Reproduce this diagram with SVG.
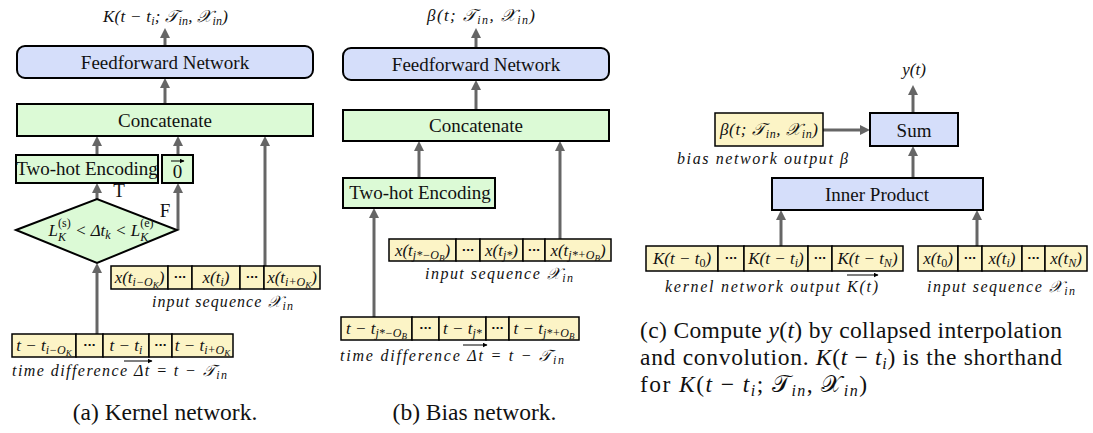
<svg xmlns="http://www.w3.org/2000/svg" width="1093" height="433" viewBox="0 0 1093 433">
<defs>
<marker id="ah" viewBox="0 0 10 10" refX="3" refY="5" markerWidth="10" markerHeight="11" markerUnits="userSpaceOnUse" orient="auto">
<path d="M0,0 L10,5 L0,10 z" fill="#666"/>
</marker>
<marker id="sa" viewBox="0 0 10 10" refX="9" refY="5" markerWidth="5" markerHeight="5" markerUnits="userSpaceOnUse" orient="auto">
<path d="M0,0 L10,5 L0,10 z" fill="#000"/>
</marker>
<style>
.blue{fill:#d5defa;stroke:#000;stroke-width:2}
.green{fill:#dcfad6;stroke:#000;stroke-width:2}
.yel{fill:#fcf4c6;stroke:#000;stroke-width:1.5}
.lbl{font-family:"Liberation Serif","DejaVu Serif",serif;font-size:19px;text-anchor:middle;fill:#111}
.m{font-family:"Liberation Serif","DejaVu Serif",serif;font-style:italic;font-size:17px;text-anchor:middle;fill:#111}
.it{font-family:"Liberation Serif","DejaVu Serif",serif;font-style:italic;font-size:16px;fill:#111}
.dots{font-family:"DejaVu Sans",sans-serif;font-weight:bold;font-size:11px;text-anchor:middle;fill:#111}
.cap{font-family:"Liberation Serif","DejaVu Serif",serif;font-size:23.5px;fill:#111}
.conn line{stroke:#666;stroke-width:3;marker-end:url(#ah)}
.acc{stroke:#000;stroke-width:1;marker-end:url(#sa)}
.s{font-size:12px}
.ss{font-size:9px}
</style>
</defs>

<g id="connectors" class="conn">
<line x1="165" y1="46" x2="165" y2="35"/>
<line x1="165" y1="104" x2="165" y2="85"/>
<line x1="97" y1="155" x2="97" y2="143"/>
<line x1="178" y1="155" x2="178" y2="143"/>
<line x1="265" y1="266" x2="265" y2="143"/>
<line x1="97" y1="199" x2="97" y2="190"/>
<line x1="178" y1="230" x2="178" y2="190"/>
<line x1="97" y1="334" x2="97" y2="270"/>
<line x1="476" y1="48" x2="476" y2="35"/>
<line x1="476" y1="110" x2="476" y2="87"/>
<line x1="419" y1="178" x2="419" y2="148"/>
<line x1="560" y1="239" x2="560" y2="148"/>
<line x1="374" y1="317" x2="374" y2="215"/>
<line x1="913" y1="113" x2="913" y2="92"/>
<line x1="823" y1="130" x2="863" y2="130"/>
<line x1="913" y1="178" x2="913" y2="153"/>
<line x1="781" y1="246" x2="781" y2="217"/>
<line x1="977" y1="246" x2="977" y2="217"/>
</g>

<!-- Panel (a) -->
<g id="a-output">
<text class="m" x="165.5" y="22" textLength="125" lengthAdjust="spacing">K(t − t<tspan class="s" dy="3">i</tspan><tspan dy="-3">; 𝒯</tspan><tspan class="s" dy="3">in</tspan><tspan dy="-3">, 𝒳</tspan><tspan class="s" dy="3">in</tspan><tspan dy="-3">)</tspan></text>
</g>
<g id="a-ffn">
<rect class="blue" x="17" y="46" width="296" height="32" rx="8"/>
<text class="lbl" x="165" y="69">Feedforward Network</text>
</g>
<g id="a-concat">
<rect class="green" x="17" y="104" width="296" height="32"/>
<text class="lbl" x="165" y="127">Concatenate</text>
</g>
<g id="a-twohot">
<rect class="green" x="16" y="155" width="142" height="28"/>
<text class="lbl" x="87" y="175" font-size="16">Two-hot Encoding</text>
</g>
<g id="a-zero">
<rect class="green" x="162" y="155" width="31" height="28"/>
<text class="lbl" x="177.5" y="178" font-size="17">0</text>
<line class="acc" x1="171" y1="161" x2="184" y2="161"/>
</g>
<g id="a-cond">
<polygon class="green" points="16,230 97,199 177,230 97,263"/>
<text class="m" x="101" y="236" font-size="18">L<tspan class="s" dy="5">K</tspan><tspan class="s" dx="-8" dy="-14" font-style="normal">(s)</tspan><tspan dy="9"> &lt; Δt</tspan><tspan class="s" dy="3">k</tspan><tspan dy="-3"> &lt; L</tspan><tspan class="s" dy="5">K</tspan><tspan class="s" dx="-8" dy="-14" font-style="normal">(e)</tspan></text>
<text class="lbl" x="119" y="197" font-size="17">T</text>
<text class="lbl" x="165" y="217" font-size="17">F</text>
</g>
<g id="a-input">
<rect class="yel" x="111" y="266" width="57" height="23"/>
<rect class="yel" x="168" y="266" width="24" height="23"/>
<rect class="yel" x="192" y="266" width="48" height="23"/>
<rect class="yel" x="240" y="266" width="24" height="23"/>
<rect class="yel" x="264" y="266" width="56" height="23"/>
<text class="m" x="139.5" y="283">x(t<tspan class="s" dy="3">i−O</tspan><tspan class="ss" dy="2">K</tspan><tspan dy="-5">)</tspan></text>
<text class="dots" x="180" y="281">···</text>
<text class="m" x="216" y="283">x(t<tspan class="s" dy="3">i</tspan><tspan dy="-3">)</tspan></text>
<text class="dots" x="252" y="281">···</text>
<text class="m" x="292" y="283">x(t<tspan class="s" dy="3">i+O</tspan><tspan class="ss" dy="2">K</tspan><tspan dy="-5">)</tspan></text>
<text class="it" x="152" y="307" textLength="141" lengthAdjust="spacing">input sequence 𝒳<tspan class="s" dy="3">in</tspan></text>
</g>
<g id="a-time">
<rect class="yel" x="12" y="334" width="64" height="23"/>
<rect class="yel" x="76" y="334" width="27" height="23"/>
<rect class="yel" x="103" y="334" width="46" height="23"/>
<rect class="yel" x="149" y="334" width="23" height="23"/>
<rect class="yel" x="172" y="334" width="61" height="23"/>
<text class="m" x="44" y="351">t − t<tspan class="s" dy="3">i−O</tspan><tspan class="ss" dy="2">K</tspan></text>
<text class="dots" x="89.5" y="349">···</text>
<text class="m" x="126" y="351">t − t<tspan class="s" dy="3">i</tspan></text>
<text class="dots" x="160.5" y="349">···</text>
<text class="m" x="202.5" y="351">t − t<tspan class="s" dy="3">i+O</tspan><tspan class="ss" dy="2">K</tspan></text>
<text class="it" x="12" y="376" textLength="215" lengthAdjust="spacing">time difference Δt = t − 𝒯<tspan class="s" dy="3">in</tspan></text>
<line class="acc" x1="124" y1="361" x2="152" y2="361"/>
</g>
<text class="cap" x="165" y="420" text-anchor="middle">(a) Kernel network.</text>

<!-- Panel (b) -->
<g id="b-output">
<text class="m" x="481" y="21" textLength="108" lengthAdjust="spacing">β(t; 𝒯<tspan class="s" dy="3">in</tspan><tspan dy="-3">, 𝒳</tspan><tspan class="s" dy="3">in</tspan><tspan dy="-3">)</tspan></text>
</g>
<g id="b-ffn">
<rect class="blue" x="343" y="48" width="266" height="32" rx="8"/>
<text class="lbl" x="476" y="71">Feedforward Network</text>
</g>
<g id="b-concat">
<rect class="green" x="343" y="110" width="266" height="31"/>
<text class="lbl" x="476" y="132">Concatenate</text>
</g>
<g id="b-twohot">
<rect class="green" x="343" y="178" width="152" height="30"/>
<text class="lbl" x="420" y="199" font-size="17">Two-hot Encoding</text>
</g>
<g id="b-input">
<rect class="yel" x="389" y="239" width="67" height="22"/>
<rect class="yel" x="456" y="239" width="24" height="22"/>
<rect class="yel" x="480" y="239" width="43" height="22"/>
<rect class="yel" x="523" y="239" width="22" height="22"/>
<rect class="yel" x="545" y="239" width="66" height="22"/>
<text class="m" x="422.5" y="256">x(t<tspan class="s" dy="3">j*−O</tspan><tspan class="ss" dy="2">B</tspan><tspan dy="-5">)</tspan></text>
<text class="dots" x="468" y="254">···</text>
<text class="m" x="501.5" y="256">x(t<tspan class="s" dy="3">j*</tspan><tspan dy="-3">)</tspan></text>
<text class="dots" x="534" y="254">···</text>
<text class="m" x="578" y="256">x(t<tspan class="s" dy="3">j*+O</tspan><tspan class="ss" dy="2">B</tspan><tspan dy="-5">)</tspan></text>
<text class="it" x="425" y="279" textLength="148" lengthAdjust="spacing">input sequence 𝒳<tspan class="s" dy="3">in</tspan></text>
</g>
<g id="b-time">
<rect class="yel" x="341" y="317" width="71" height="23"/>
<rect class="yel" x="412" y="317" width="27" height="23"/>
<rect class="yel" x="439" y="317" width="47" height="23"/>
<rect class="yel" x="486" y="317" width="23" height="23"/>
<rect class="yel" x="509" y="317" width="70" height="23"/>
<text class="m" x="376.5" y="334">t − t<tspan class="s" dy="3">j*−O</tspan><tspan class="ss" dy="2">B</tspan></text>
<text class="dots" x="425.5" y="332">···</text>
<text class="m" x="462.5" y="334">t − t<tspan class="s" dy="3">j*</tspan></text>
<text class="dots" x="497.5" y="332">···</text>
<text class="m" x="544" y="334">t − t<tspan class="s" dy="3">j*+O</tspan><tspan class="ss" dy="2">B</tspan></text>
<text class="it" x="340" y="361" textLength="224" lengthAdjust="spacing">time difference Δt = t − 𝒯<tspan class="s" dy="3">in</tspan></text>
<line class="acc" x1="463" y1="345" x2="487" y2="345"/>
</g>
<text class="cap" x="474.5" y="420" text-anchor="middle">(b) Bias network.</text>

<!-- Panel (c) -->
<g id="c-output">
<text class="m" x="914" y="75" font-size="16">y(t)</text>
</g>
<g id="c-sum">
<rect class="blue" x="870" y="113" width="88" height="33"/>
<text class="lbl" x="914" y="137" font-size="20">Sum</text>
</g>
<g id="c-bias">
<rect class="yel" x="715" y="113" width="108" height="33" stroke-width="2"/>
<text class="m" x="769" y="135" font-size="19" textLength="98" lengthAdjust="spacing">β(t; 𝒯<tspan class="s" dy="3" font-size="13">in</tspan><tspan dy="-3">, 𝒳</tspan><tspan class="s" dy="3" font-size="13">in</tspan><tspan dy="-3">)</tspan></text>
<text class="it" x="677" y="164" textLength="171" lengthAdjust="spacing">bias network output β</text>
</g>
<g id="c-inner">
<rect class="blue" x="772" y="178" width="211" height="32"/>
<text class="lbl" x="877" y="201" font-size="20">Inner Product</text>
</g>
<g id="c-kernel">
<rect class="yel" x="646" y="246" width="72" height="25"/>
<rect class="yel" x="718" y="246" width="26" height="25"/>
<rect class="yel" x="744" y="246" width="64" height="25"/>
<rect class="yel" x="808" y="246" width="24" height="25"/>
<rect class="yel" x="832" y="246" width="71" height="25"/>
<text class="m" x="682" y="264" font-size="18">K(t − t<tspan class="s" dy="3" font-style="normal">0</tspan><tspan dy="-3">)</tspan></text>
<text class="dots" x="731" y="262">···</text>
<text class="m" x="776" y="264" font-size="18">K(t − t<tspan class="s" dy="3">i</tspan><tspan dy="-3">)</tspan></text>
<text class="dots" x="820" y="262">···</text>
<text class="m" x="867.5" y="264" font-size="18">K(t − t<tspan class="s" dy="3">N</tspan><tspan dy="-3">)</tspan></text>
<text class="it" x="665" y="292" textLength="213" lengthAdjust="spacing">kernel network output K(t)</text>
<line class="acc" x1="847" y1="275" x2="878" y2="275"/>
</g>
<g id="c-input">
<rect class="yel" x="918" y="246" width="40" height="25"/>
<rect class="yel" x="958" y="246" width="24" height="25"/>
<rect class="yel" x="982" y="246" width="40" height="25"/>
<rect class="yel" x="1022" y="246" width="23" height="25"/>
<rect class="yel" x="1045" y="246" width="42" height="25"/>
<text class="m" x="938" y="264" font-size="18">x(t<tspan class="s" dy="3" font-style="normal">0</tspan><tspan dy="-3">)</tspan></text>
<text class="dots" x="970" y="262">···</text>
<text class="m" x="1002" y="264" font-size="18">x(t<tspan class="s" dy="3">i</tspan><tspan dy="-3">)</tspan></text>
<text class="dots" x="1033.5" y="262">···</text>
<text class="m" x="1066" y="264" font-size="18">x(t<tspan class="s" dy="3">N</tspan><tspan dy="-3">)</tspan></text>
<text class="it" x="927" y="292" textLength="148" lengthAdjust="spacing">input sequence 𝒳<tspan class="s" dy="3">in</tspan></text>
</g>
<g id="c-caption" class="cap">
<text x="640" y="338" textLength="422" lengthAdjust="spacing">(c) Compute <tspan font-style="italic">y</tspan>(<tspan font-style="italic">t</tspan>) by collapsed interpolation</text>
<text x="640" y="365" textLength="422" lengthAdjust="spacing">and convolution. <tspan font-style="italic">K</tspan>(<tspan font-style="italic">t</tspan> − <tspan font-style="italic">t<tspan font-size="16" dy="4">i</tspan></tspan><tspan dy="-4">) is the shorthand</tspan></text>
<text x="640" y="392" textLength="227" lengthAdjust="spacing">for <tspan font-style="italic">K</tspan>(<tspan font-style="italic">t</tspan> − <tspan font-style="italic">t<tspan font-size="16" dy="4">i</tspan></tspan><tspan dy="-4">; 𝒯</tspan><tspan font-size="16" font-style="italic" dy="4">in</tspan><tspan dy="-4">, 𝒳</tspan><tspan font-size="16" font-style="italic" dy="4">in</tspan><tspan dy="-4">)</tspan></text>
</g>
</svg>
